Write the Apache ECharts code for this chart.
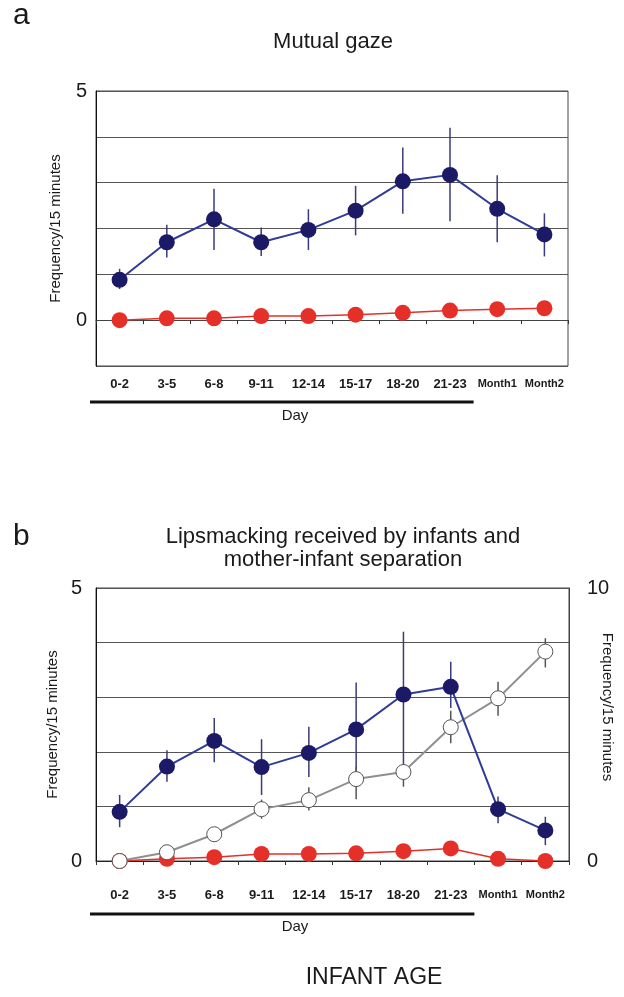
<!DOCTYPE html>
<html>
<head>
<meta charset="utf-8">
<script src="https://cdn.jsdelivr.net/npm/echarts@6/dist/echarts.min.js"></script>
<style>
html,body{margin:0;padding:0;background:#fff;}
#chart{width:624px;height:997px;}
</style>
</head>
<body>
<div id="chart"></div>
<script>
// ---- Data ----
const categories = ['0-2','3-5','6-8','9-11','12-14','15-17','18-20','21-23','Month1','Month2'];

// Panel a: Mutual gaze
const gazeBlue     = [0.88, 1.70, 2.20, 1.70, 1.97, 2.39, 3.03, 3.17, 2.43, 1.87];
const gazeBlueLow  = [0.68, 1.37, 1.53, 1.40, 1.53, 1.85, 2.32, 2.16, 1.70, 1.39];
const gazeBlueHigh = [1.12, 2.08, 2.87, 2.02, 2.42, 2.93, 3.77, 4.20, 3.16, 2.33];
const gazeRed      = [0.00, 0.04, 0.04, 0.09, 0.09, 0.12, 0.16, 0.21, 0.24, 0.26];

// Panel b: Lipsmacking received by infants and mother-infant separation
const lipBlue      = [0.90, 1.73, 2.20, 1.72, 1.98, 2.41, 3.05, 3.19, 0.95, 0.56];
const lipBlueLow   = [0.62, 1.45, 1.81, 1.21, 1.54, 1.48, 1.67, 2.80, 0.69, 0.29];
const lipBlueHigh  = [1.21, 2.03, 2.62, 2.23, 2.46, 3.27, 4.20, 3.65, 1.18, 0.81];
const lipRed       = [0.00, 0.04, 0.07, 0.13, 0.13, 0.14, 0.18, 0.23, 0.04, 0.00];
const separation     = [0.00, 0.32, 0.98, 1.90, 2.23, 3.00, 3.26, 4.90, 5.96, 7.67];
const separationLow  = [0.00, 0.32, 0.98, 1.55, 1.85, 2.26, 2.72, 4.31, 5.32, 7.09];
const separationHigh = [0.00, 0.32, 0.98, 2.25, 2.70, 3.45, 3.52, 5.50, 6.57, 8.16];

// Tick labels shown
const leftTicksShown = [0, 5];
const rightTicksShown = [0, 10];

// ---- Styles ----
const FONT = '"Liberation Sans", Arial, Helvetica, sans-serif';
const NAVY = '#1c1a66';
const BLUE_LINE = '#2f3b96';
const RED = '#e5302a';
const GRID_LINE = '#555555';

const chart = echarts.init(document.getElementById('chart'), null, {renderer: 'canvas'});

function errData(low, high) {
  return categories.map((c, i) => [i, low[i], high[i]]);
}
function errSeries(xi, yi, low, high, color) {
  return {
    type: 'custom',
    xAxisIndex: xi, yAxisIndex: yi,
    z: 1,
    silent: true,
    data: errData(low, high),
    renderItem: function (params, api) {
      const x = api.value(0);
      const p1 = api.coord([x, api.value(1)]);
      const p2 = api.coord([x, api.value(2)]);
      return {type: 'line', shape: {x1: p1[0], y1: p1[1], x2: p2[0], y2: p2[1]},
              style: {stroke: color, lineWidth: 1.5}};
    }
  };
}
function xLabel(margin) {
  return {
    margin: margin,
    interval: 0,
    formatter: v => v.indexOf('Month') === 0 ? '{m|' + v + '}' : '{d|' + v + '}',
    rich: {
      d: {fontFamily: FONT, fontWeight: 'bold', fontSize: 13, color: '#1a1a1a'},
      m: {fontFamily: FONT, fontWeight: 'bold', fontSize: 11, color: '#1a1a1a'}
    }
  };
}
function markerLine(xi, yi, data, lineColor, markerColor, size, lineWidth, z) {
  return {
    type: 'line', xAxisIndex: xi, yAxisIndex: yi, data: data,
    symbol: 'circle', symbolSize: size, z: z,
    lineStyle: {color: lineColor, width: lineWidth},
    itemStyle: {color: markerColor, borderWidth: 0},
    emphasis: {disabled: true}, animation: false
  };
}

const option = {
  animation: false,
  backgroundColor: '#ffffff',
  grid: [
    {left: 96, top: 91, width: 472, height: 275, show: true, borderColor: '#444', borderWidth: 1,
     backgroundColor: 'transparent', containLabel: false, outerBoundsMode: 'none'},
    {left: 96, top: 588, width: 473, height: 273, show: true, borderColor: '#444', borderWidth: 1,
     backgroundColor: 'transparent', containLabel: false, outerBoundsMode: 'none'}
  ],
  xAxis: [
    {type: 'category', gridIndex: 0, data: categories, boundaryGap: true,
     axisLine: {onZero: true, lineStyle: {color: '#444', width: 1}},
     axisTick: {show: true, length: 4, lineStyle: {color: '#333'}},
     axisLabel: xLabel(12), splitLine: {show: false}},
    {type: 'category', gridIndex: 1, data: categories, boundaryGap: true,
     axisLine: {onZero: true, lineStyle: {color: '#222', width: 1}},
     axisTick: {show: true, length: 4, lineStyle: {color: '#333'}},
     axisLabel: xLabel(28), splitLine: {show: false}}
  ],
  yAxis: [
    {type: 'value', gridIndex: 0, min: -1, max: 5, interval: 1,
     name: 'Frequency/15 minutes', nameLocation: 'middle', nameGap: 33,
     nameTextStyle: {fontFamily: FONT, fontSize: 15, color: '#1a1a1a'},
     axisLine: {show: true, lineStyle: {color: '#111', width: 1}},
     axisTick: {show: false},
     axisLabel: {margin: 9, fontFamily: FONT, fontSize: 20, color: '#1a1a1a',
                 formatter: v => leftTicksShown.indexOf(v) >= 0 ? String(v) : ''},
     splitLine: {show: true, lineStyle: {color: GRID_LINE, width: 1}}},
    {type: 'value', gridIndex: 1, min: 0, max: 5, interval: 1,
     name: 'Frequency/15 minutes', nameLocation: 'middle', nameGap: 31,
     nameTextStyle: {fontFamily: FONT, fontSize: 15, color: '#1a1a1a'},
     axisLine: {show: true, lineStyle: {color: '#111', width: 1}},
     axisTick: {show: false},
     axisLabel: {margin: 14, fontFamily: FONT, fontSize: 20, color: '#1a1a1a',
                 formatter: v => leftTicksShown.indexOf(v) >= 0 ? String(v) : ''},
     splitLine: {show: true, lineStyle: {color: GRID_LINE, width: 1}}},
    {type: 'value', gridIndex: 1, position: 'right', min: 0, max: 10, interval: 2,
     axisLine: {show: true, lineStyle: {color: '#444', width: 1}},
     axisTick: {show: false},
     axisLabel: {margin: 18, fontFamily: FONT, fontSize: 20, color: '#1a1a1a',
                 formatter: v => rightTicksShown.indexOf(v) >= 0 ? String(v) : ''},
     splitLine: {show: false}}
  ],
  series: [
    errSeries(0, 0, gazeBlueLow, gazeBlueHigh, '#3a3a7e'),
    markerLine(0, 0, gazeRed, RED, RED, 16, 1.5, 3),
    markerLine(0, 0, gazeBlue, BLUE_LINE, NAVY, 16, 2, 5),

    errSeries(1, 1, lipBlueLow, lipBlueHigh, '#3a3a7e'),
    errSeries(1, 2, separationLow, separationHigh, '#555555'),
    markerLine(1, 1, lipRed, RED, RED, 16, 1.5, 3),
    Object.assign(markerLine(1, 2, separation, '#8f8f8f', '#ffffff', 15, 2, 4),
      {itemStyle: {color: '#ffffff', borderColor: '#555555', borderWidth: 1}}),
    markerLine(1, 1, lipBlue, BLUE_LINE, NAVY, 16, 2, 5)
  ]
};
chart.setOption(option);

// Decorative texts and "Day" underlines (positions derived from the axes where relevant)
const xA7 = chart.convertToPixel({xAxisIndex: 0}, categories[7]);
const xA8 = chart.convertToPixel({xAxisIndex: 0}, categories[8]);
const xB7 = chart.convertToPixel({xAxisIndex: 1}, categories[7]);
const xB8 = chart.convertToPixel({xAxisIndex: 1}, categories[8]);
const dayEndA = (xA7 + xA8) / 2;
const dayEndB = (xB7 + xB8) / 2;

function txt(text, x, y, size, align) {
  return {type: 'text', x: x, y: y, silent: true,
          style: {text: text, fontFamily: FONT, fontSize: size, fill: '#1a1a1a',
                  align: align || 'center', verticalAlign: 'middle'}};
}
chart.setOption({
  graphic: [
    txt('a', 13, 16, 30, 'left'),
    txt('Mutual gaze', 333, 42, 22),
    {type: 'line', silent: true, shape: {x1: 90, y1: 402, x2: dayEndA, y2: 402}, style: {stroke: '#111', lineWidth: 3}},
    txt('Day', 295, 416, 15),
    txt('b', 13, 537, 30, 'left'),
    txt('Lipsmacking received by infants and', 343, 537, 22),
    txt('mother-infant separation', 343, 560, 22),
    Object.assign(txt('Frequency/15 minutes', 607, 707, 15), {rotation: -Math.PI / 2}),
    {type: 'line', silent: true, shape: {x1: 90, y1: 914, x2: dayEndB, y2: 914}, style: {stroke: '#111', lineWidth: 3}},
    txt('Day', 295, 927, 15),
    txt('INFANT AGE', 374, 978, 23)
  ]
});
</script>
</body>
</html>
